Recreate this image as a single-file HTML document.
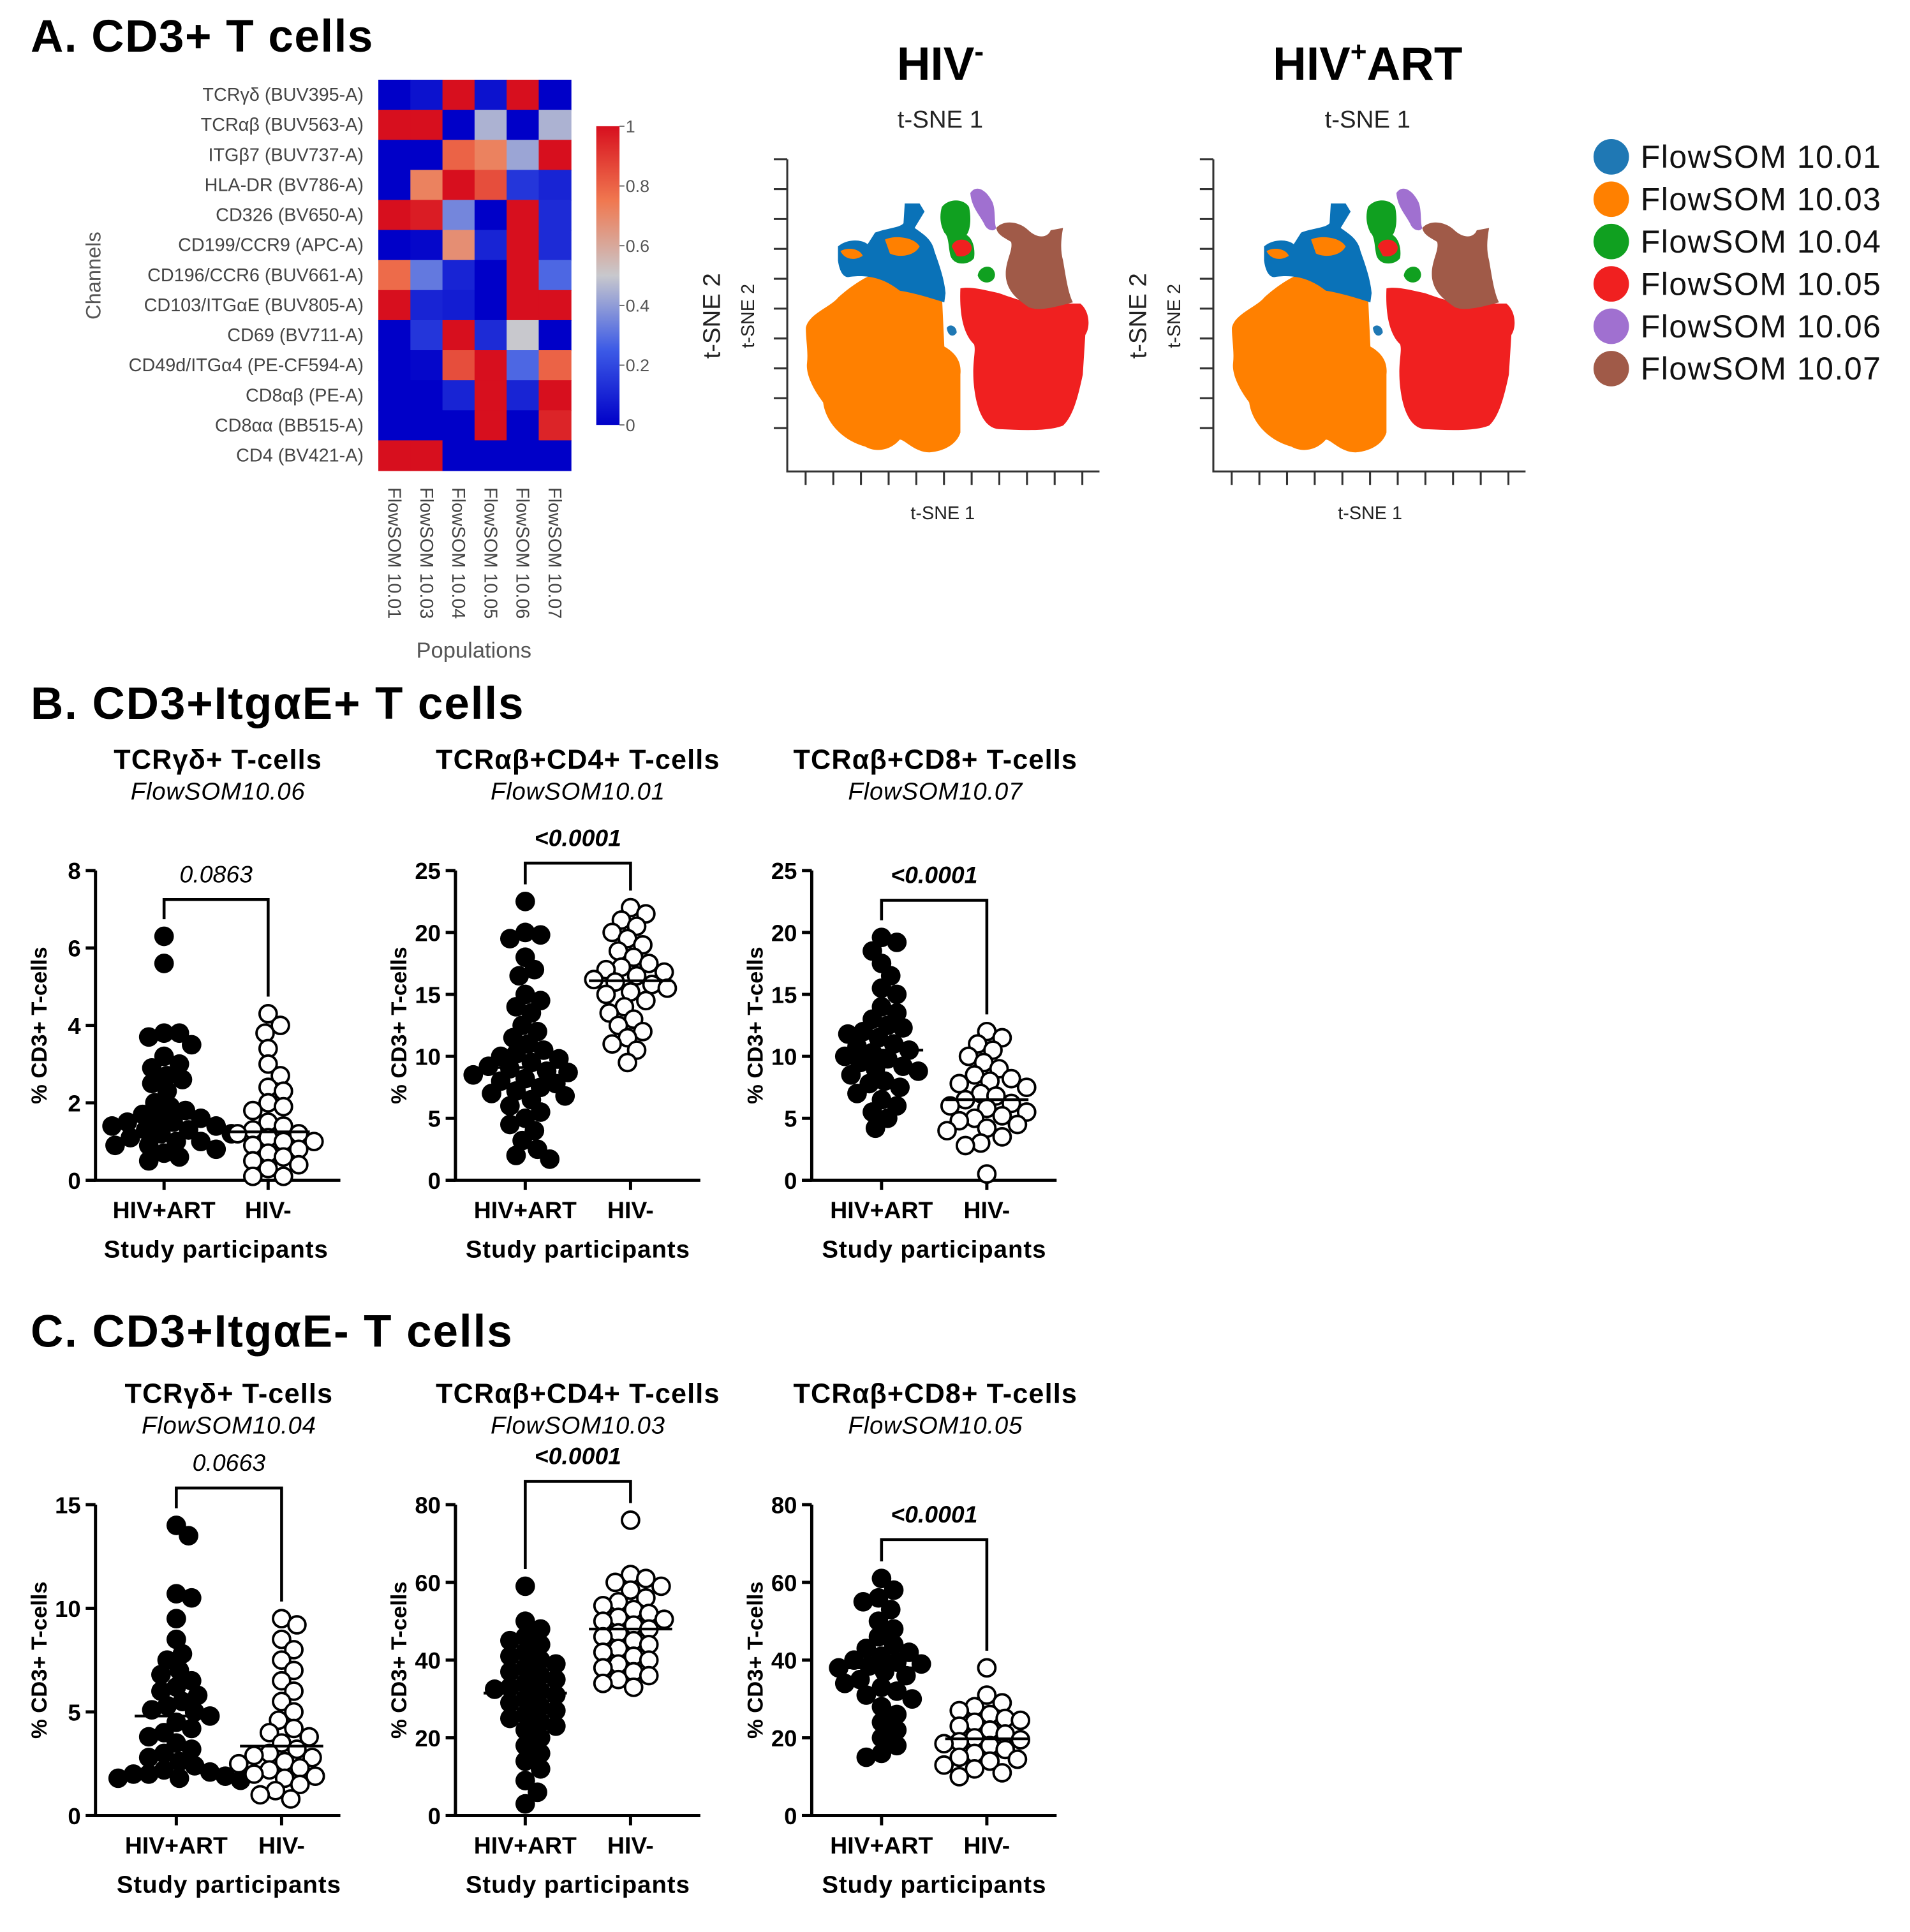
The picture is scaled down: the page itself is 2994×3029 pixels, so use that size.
<!DOCTYPE html>
<html><head><meta charset="utf-8"><style>
html,body{margin:0;padding:0;background:#fff}
svg{display:block}
text{font-family:"Liberation Sans",Arial,sans-serif}
</style></head><body>
<svg id="fig" xmlns="http://www.w3.org/2000/svg" width="2994" height="3029" viewBox="0 0 1560 1578">
<text x="25" y="42" font-size="37" font-weight="bold" letter-spacing="0.8">A. CD3+ T cells</text>
<text x="25" y="587" font-size="37" font-weight="bold" letter-spacing="1">B. CD3+ItgαE+ T cells</text>
<text x="25" y="1100" font-size="37" font-weight="bold" letter-spacing="1">C. CD3+ItgαE- T cells</text>
<g id="heat"></g>
<g id="tsne"></g>
<g id="legend"></g>
<g id="strips"></g>
</svg>
<script>
const NS="http://www.w3.org/2000/svg";
// ---------- heatmap data ----------
const channels=["TCRγδ (BUV395-A)","TCRαβ (BUV563-A)","ITGβ7 (BUV737-A)","HLA-DR (BV786-A)","CD326 (BV650-A)","CD199/CCR9 (APC-A)","CD196/CCR6 (BUV661-A)","CD103/ITGαE (BUV805-A)","CD69 (BV711-A)","CD49d/ITGα4 (PE-CF594-A)","CD8αβ (PE-A)","CD8αα (BB515-A)","CD4 (BV421-A)"];
const populations=["FlowSOM 10.01","FlowSOM 10.03","FlowSOM 10.04","FlowSOM 10.05","FlowSOM 10.06","FlowSOM 10.07"];
const heatValues=[
[0,0.05,1,0.05,1,0],
[1,1,0,0.45,0,0.45],
[0,0,0.8,0.72,0.42,1],
[0,0.72,1,0.85,0.15,0.1],
[1,0.97,0.35,0,1,0.12],
[0,0.02,0.68,0.1,1,0.12],
[0.78,0.32,0.1,0,1,0.28],
[1,0.1,0.08,0,1,1],
[0,0.15,1,0.12,0.5,0],
[0,0.02,0.85,1,0.28,0.8],
[0,0,0.1,1,0.1,1],
[0,0,0,1,0,0.95],
[1,1,0,0,0,0]];
const colorbarTicks=[0,0.2,0.4,0.6,0.8,1];
// ---------- legend ----------
const legendLabels=populations;
const legendColors=["#1f78b4","#ff8000","#10a020","#f02020","#a070d0","#a05a48"];
// ---------- strip plot data ----------
const panelTitles=["TCRγδ+ T-cells","TCRαβ+CD4+ T-cells","TCRαβ+CD8+ T-cells","TCRγδ+ T-cells","TCRαβ+CD4+ T-cells","TCRαβ+CD8+ T-cells"];
const panelSubtitles=["FlowSOM10.06","FlowSOM10.01","FlowSOM10.07","FlowSOM10.04","FlowSOM10.03","FlowSOM10.05"];
const groupLabels=["HIV+ART","HIV-"];
const pValues=["0.0863","<0.0001","<0.0001","0.0663","<0.0001","<0.0001"];
const pBold=[false,true,true,false,true,true];
const yMaxes=[8,25,25,15,80,80];
const yTicks=[[0,2,4,6,8],[0,5,10,15,20,25],[0,5,10,15,20,25],[0,5,10,15],[0,20,40,60,80],[0,20,40,60,80]];
const bracketVals=[7.25,25.6,22.6,15.8,86,71];
const b1Art=[6.3,5.6,3.8,3.8,3.7,3.5,3.2,3.0,2.9,2.7,2.6,2.5,2.3,2.0,1.9,1.8,1.7,1.6,1.6,1.5,1.5,1.4,1.4,1.3,1.3,1.2,1.2,1.1,1.0,1.0,0.9,0.9,0.8,0.7,0.6,0.5];
const b1Neg=[4.3,4.0,3.8,3.4,3.0,2.7,2.4,2.3,2.0,1.9,1.8,1.5,1.3,1.2,1.2,1.1,1.0,1.0,0.9,0.8,0.7,0.6,0.5,0.4,0.3,0.1,0.1,1.4];
const b2Art=[22.5,20,19.8,19.5,18,17,16.5,15,14.5,14,13.5,12.5,12,11.5,11,10.5,10,9.8,9.5,9,8.7,8.5,8.2,8,7.8,7.5,7.2,7,6.8,6.5,6,5.5,5,4.5,4,3.2,2.5,2,1.7,9.2,10.2,8.8];
const b2Neg=[22,21.5,21,20.5,20,19.5,19,18.5,18,17.5,17.2,17,16.8,16.5,16.2,16,15.8,15.5,15.2,15,14.5,14,13.5,13,12.5,12,11.5,11,10.5,9.5];
const b3Art=[19.6,19.2,18.5,17.5,16.5,15.5,15,14,13.5,13,12.5,12.3,12,11.8,11.5,11,10.8,10.5,10.3,10,9.8,9.5,9.2,9,8.8,8.5,8,7.8,7.5,7,6.5,6,5.5,5,4.2];
const b3Neg=[12,11.5,11,10.5,10,9.5,9,8.5,8.2,8,7.8,7.5,7,6.8,6.5,6.2,6,5.8,5.5,5.2,5,4.8,4.5,4.2,4,3.5,3,2.8,0.5];
const c1Art=[14,13.5,10.7,10.5,9.5,8.5,7.8,7.5,7,6.8,6.5,6.2,6,5.8,5.5,5.3,5.1,5,4.8,4.5,4.2,4,3.8,3.5,3.2,3,2.8,2.6,2.4,2.2,2.1,2,2,1.9,1.8,1.8,1.7];
const c1Neg=[9.5,9.2,8.5,8,7.5,7,6.5,6,5.5,5,4.6,4.2,4,3.8,3.5,3.2,3,2.9,2.8,2.6,2.5,2.3,2.2,2,1.9,1.8,1.5,1.2,1.0,0.8];
const c2Art=[59,50,48,46,45,44,42,41,40,39,38,37,36,35,34,33,32.5,32,31,30,29,28,27,26,25,24,23,22,20,18,16,14,12,9,6,3];
const c2Neg=[76,62,61,60,59,58,56,55,54,53,52,51,50.5,50,49,48,47,46,45,44,43,42,41,40,39,38,37,36,35,34,33];
const c3Art=[61,58,56,55,53,50,48,46,44,43,42,41,40,39.5,39,38.5,38,37,36,35,34,33,32,31,30,28,26,24,22,20,18,16,15];
const c3Neg=[38,31,29,28,27,26,25,24.5,24,23,22,21,20,19.5,19,18.5,18,17,16,15,14.5,14,13,12,11,10];
const seriesArt=[b1Art,b2Art,b3Art,c1Art,c2Art,c3Art];
const seriesNeg=[b1Neg,b2Neg,b3Neg,c1Neg,c2Neg,c3Neg];

function el(tag,attrs,parent,txt){const e=document.createElementNS(NS,tag);for(const k in attrs)e.setAttribute(k,attrs[k]);if(txt!==undefined)e.textContent=txt;parent.appendChild(e);return e;}

// ---------- heatmap ----------
const heat=document.getElementById('heat');
const hx0=309,hy0=65,cw=26.2,rh=24.55;
function lerp(a,b,t){return a.map((v,i)=>Math.round(v+(b[i]-v)*t));}
function heatColor(v){
  const stops=[[0,[0,0,200]],[0.25,[60,90,230]],[0.5,[200,200,205]],[0.75,[240,120,80]],[1,[215,15,30]]];
  for(let i=0;i<stops.length-1;i++){if(v<=stops[i+1][0]){const t=(v-stops[i][0])/(stops[i+1][0]-stops[i][0]);const c=lerp(stops[i][1],stops[i+1][1],t);return `rgb(${c})`;}}
  return 'rgb(215,15,30)';
}
channels.forEach((ch,r)=>{
  const t=el('text',{x:297,y:hy0+rh*r+rh/2+5,'font-size':15,'text-anchor':'end',fill:'#444'},heat,ch);
  
  
  heatValues[r].forEach((v,c)=>{
    const rc=el('rect',{x:hx0+cw*c,y:hy0+rh*r,width:cw+0.5,height:rh+0.5,fill:heatColor(v)},heat);
    
    
  });
});
populations.forEach((p,c)=>{
  const x=hx0+cw*c+cw/2-5;
  const t=el('text',{x:x,y:398,'font-size':15,fill:'#444',transform:`rotate(90 ${x} 398)`},heat,p);
  
  
});
let t0=el('text',{x:0,y:0,'font-size':17,fill:'#555','text-anchor':'middle',transform:'translate(82 225) rotate(-90)'},heat,'Channels');

t0=el('text',{x:387,y:537,'font-size':18,fill:'#555','text-anchor':'middle'},heat,'Populations');

const defs=el('defs',{},heat);
const lg=el('linearGradient',{id:'cb',x1:0,y1:1,x2:0,y2:0},defs);
[0,0.25,0.5,0.75,1].forEach(v=>el('stop',{offset:v,'stop-color':heatColor(v)},lg));
const cbTop=103,cbBot=347;
const cb=el('rect',{x:487,y:cbTop,width:19,height:cbBot-cbTop,fill:'url(#cb)'},heat);

colorbarTicks.forEach(v=>{
  const y=cbBot-(cbBot-cbTop)*v;
  el('line',{x1:506,x2:510,y1:y,y2:y,stroke:'#666'},heat);
  const t=el('text',{x:511,y:y+5,'font-size':14,fill:'#555'},heat,String(v));
  
});

// ---------- t-SNE ----------
const tsne=document.getElementById('tsne');
const blobs=[
 ['#ff8000','M 320 850 C 330 790 420 760 450 720 C 480 690 540 640 600 615 C 680 620 760 690 870 700 L 880 930 C 930 960 950 1000 945 1050 L 945 1300 C 930 1350 880 1380 820 1385 C 760 1385 720 1330 700 1330 C 660 1380 600 1385 560 1360 C 460 1330 400 1250 390 1170 C 340 1100 320 1040 325 1000 C 330 950 320 900 320 850 Z'],
 ['#0a72b8','M 450 500 C 480 470 540 465 570 490 L 600 440 C 650 420 700 420 715 400 L 720 315 L 780 315 L 800 350 L 760 420 C 800 450 830 470 840 520 C 860 580 880 640 885 700 L 880 740 C 820 720 760 700 700 690 C 640 640 580 620 500 630 C 470 640 455 600 450 560 Z'],
 ['#ff8000','M 640 470 C 680 450 760 460 780 500 C 760 540 700 550 660 530 Z'],
 ['#ff8000','M 460 520 C 490 500 540 510 550 540 C 520 560 480 560 460 520 Z'],
 ['#f02020','M 945 680 C 990 670 1050 690 1100 700 C 1180 730 1260 760 1330 745 L 1430 745 C 1470 780 1470 850 1450 880 L 1440 1050 C 1420 1150 1400 1230 1360 1270 C 1300 1295 1200 1290 1100 1285 C 1040 1280 1010 1200 1000 1100 C 990 1000 1010 950 1000 920 C 960 880 940 800 945 680 Z'],
 ['#a05a48','M 1090 420 C 1120 385 1180 390 1220 430 C 1260 470 1300 460 1310 430 L 1360 420 C 1350 480 1350 520 1360 560 C 1370 620 1380 700 1400 740 C 1330 760 1260 780 1220 760 C 1180 730 1140 700 1130 640 C 1120 570 1160 520 1150 480 C 1120 460 1095 450 1090 420 Z'],
 ['#10a020','M 870 330 C 900 290 960 295 980 330 C 990 380 985 430 970 450 C 1000 470 1005 520 1000 550 C 980 580 920 585 905 540 C 895 500 900 460 880 440 C 860 400 862 360 870 330 Z'],
 ['#10a020','M 1015 625 C 1020 580 1080 570 1085 620 C 1085 660 1030 670 1015 625 Z'],
 ['#f02020','M 910 500 C 920 460 980 460 990 500 C 995 530 960 550 930 540 Z'],
 ['#a070d0','M 985 270 C 1010 230 1050 260 1070 300 C 1090 330 1080 400 1090 420 C 1080 440 1050 430 1040 400 C 1020 360 990 330 985 270 Z'],
 ['#1f78b4','M 890 850 C 900 830 930 840 930 870 C 920 890 895 890 890 850 Z']
];
[{ax:643,title:'HIV',sup:'-',tx:768,name:'tsne-hiv-negative'},{ax:991,title:'HIV',sup:'+',post:'ART',tx:1117,name:'tsne-hiv-art'}].forEach(p=>{
  const g=el('g',{},tsne);
  
  const bottom=385,top=130,right=p.ax+255;
  const bg=el('g',{transform:`translate(${p.ax},${bottom}) scale(0.202 0.19) translate(-245,-1467)`},g);
  blobs.forEach(b=>{const pa=el('path',{d:b[1],fill:b[0]},bg);});
  el('path',{d:`M ${p.ax} ${top} L ${p.ax} ${bottom} L ${right} ${bottom}`,stroke:'#333',fill:'none','stroke-width':1.6},g);
  for(let i=0;i<10;i++){const y=top+i*24.4;el('line',{x1:p.ax-11,x2:p.ax,y1:y,y2:y,stroke:'#333','stroke-width':1.6},g);}
  for(let i=0;i<11;i++){const x=p.ax+15+i*22.6;el('line',{x1:x,x2:x,y1:bottom,y2:bottom+11,stroke:'#333','stroke-width':1.6},g);}
  const tt=el('text',{x:p.tx,y:65,'font-size':38,'font-weight':'bold','text-anchor':'middle'},g);
  
  el('tspan',{},tt,p.title);el('tspan',{dy:-15,'font-size':23},tt,p.sup);if(p.post)el('tspan',{dy:15},tt,p.post);
  let a=el('text',{x:p.tx,y:104,'font-size':20,'text-anchor':'middle',fill:'#222'},g,'t-SNE 1');
  a=el('text',{x:p.tx+2,y:424,'font-size':15,'text-anchor':'middle',fill:'#222'},g,'t-SNE 1');
  a=el('text',{x:0,y:0,'font-size':20,'text-anchor':'middle',fill:'#222',transform:`translate(${p.ax-55} 258) rotate(-90)`},g,'t-SNE 2');
  a=el('text',{x:0,y:0,'font-size':15,'text-anchor':'middle',fill:'#222',transform:`translate(${p.ax-27} 258) rotate(-90)`},g,'t-SNE 2');
});

// ---------- legend ----------
const legend=document.getElementById('legend');
legendLabels.forEach((l,i)=>{
  const y=128+i*34.6;
  const c=el('circle',{cx:1316,cy:y,r:14.5,fill:legendColors[i]},legend);
  
  const t=el('text',{x:1340,y:y+9,'font-size':26,'letter-spacing':'0.8',fill:'#111'},legend,l);
  
});

// ---------- strip plots ----------
const strips=document.getElementById('strips');
const layouts=[
 {ax:78,top:711,bot:964,g1:134,g2:219,tx:178,ty:628},
 {ax:372,top:711,bot:964,g1:429,g2:515,tx:472,ty:628},
 {ax:663,top:711,bot:964,g1:720,g2:806,tx:764,ty:628},
 {ax:78,top:1229,bot:1483,g1:144,g2:230,tx:187,ty:1146},
 {ax:372,top:1229,bot:1483,g1:429,g2:515,tx:472,ty:1146},
 {ax:663,top:1229,bot:1483,g1:720,g2:806,tx:764,ty:1146}];
function median(a){const s=[...a].sort((x,y)=>x-y);const n=s.length;return n%2?s[(n-1)/2]:(s[n/2-1]+s[n/2])/2;}
function swarm(vals,yf,cx){
  const R=8,D=2*R*0.78,pts=[];
  [...vals].sort((a,b)=>b-a).forEach(v=>{
    const y=yf(v);
    for(let k=0;k<80;k++){
      const off=(k%2?1:-1)*Math.ceil(k/2)*2.5;
      const x=cx+off;
      if(k===79||pts.every(p=>Math.hypot(p[0]-x,p[1]-y)>=D)){pts.push([x,y,v]);break;}
    }
  });
  return pts;
}
layouts.forEach((L,i)=>{
  const g=el('g',{},strips);
  
  const yf=v=>L.bot-(L.bot-L.top)*v/yMaxes[i];
  let t=el('text',{x:L.tx,y:L.ty,'font-size':22.5,'font-weight':'bold','letter-spacing':'0.6','text-anchor':'middle'},g,panelTitles[i]);
  
  t=el('text',{x:L.tx,y:L.ty+25,'font-size':20,'font-style':'italic','letter-spacing':'0.4','text-anchor':'middle'},g,panelSubtitles[i]);
  
  el('path',{d:`M ${L.ax} ${L.top} L ${L.ax} ${L.bot} L ${L.ax+200} ${L.bot}`,stroke:'#000','stroke-width':2.6,fill:'none'},g);
  el('line',{x1:L.ax-8,x2:L.ax,y1:L.bot,y2:L.bot,stroke:'#000','stroke-width':2.6},g);
  yTicks[i].forEach(v=>{
    const y=yf(v);
    el('line',{x1:L.ax-8,x2:L.ax,y1:y,y2:y,stroke:'#000','stroke-width':2.6},g);
    const tt=el('text',{x:L.ax-12,y:y+7,'font-size':19,'font-weight':'bold','text-anchor':'end'},g,String(v));
    
  });
  t=el('text',{x:0,y:0,'font-size':18,'font-weight':'bold','text-anchor':'middle',transform:`translate(${L.ax-40} ${(L.top+L.bot)/2}) rotate(-90)`},g,'% CD3+ T-cells');
  
  [L.g1,L.g2].forEach((gx,j)=>{
    el('line',{x1:gx,x2:gx,y1:L.bot,y2:L.bot+8,stroke:'#000','stroke-width':2.6},g);
    const tt=el('text',{x:gx,y:L.bot+31,'font-size':19.5,'font-weight':'bold','text-anchor':'middle'},g,groupLabels[j]);
    
  });
  t=el('text',{x:(L.g1+L.g2)/2,y:L.bot+63,'font-size':20,'font-weight':'bold','letter-spacing':'0.5','text-anchor':'middle'},g,'Study participants');
  
  [seriesArt[i],seriesNeg[i]].forEach((vals,j)=>{
    const cx=j?L.g2:L.g1;
    swarm(vals,yf,cx).forEach(p=>{
      const c=el('circle',{cx:p[0],cy:p[1],r:j?7:8,fill:j?'#fff':'#000',stroke:'#000','stroke-width':j?2:0},g);
      
      
    });
    const m=yf(median(vals));
    const ml=el('line',{x1:cx-34,x2:cx+34,y1:m,y2:m,stroke:'#000','stroke-width':2.2},g);
    
  });
  const by=yf(bracketVals[i]);
  const l1=yf(Math.max(...seriesArt[i]))-14, l2=yf(Math.max(...seriesNeg[i]))-14;
  const br=el('path',{d:`M ${L.g1} ${Math.max(l1,by+8)} L ${L.g1} ${by} L ${L.g2} ${by} L ${L.g2} ${Math.max(l2,by+8)}`,stroke:'#000','stroke-width':2.4,fill:'none'},g);
  
  t=el('text',{x:(L.g1+L.g2)/2,y:by-14,'font-size':19.5,'font-style':'italic','font-weight':pBold[i]?'bold':'normal','text-anchor':'middle'},g,pValues[i]);
  
});
</script>
</body></html>
